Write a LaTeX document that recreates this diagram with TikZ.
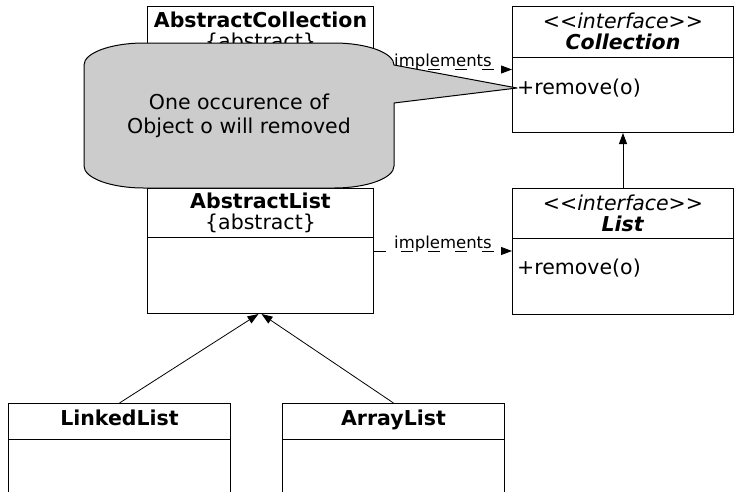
\documentclass[tikz,border=0pt]{standalone}
\usepackage{fontspec}
\setmainfont{DejaVu Sans}
\usetikzlibrary{arrows.meta}
\definecolor{notegray}{HTML}{CCCCCC}

\begin{document}
\begin{tikzpicture}[x=1pt,y=-1pt,
    classbox/.style={draw, line width=1pt, anchor=north west, inner sep=0pt},
    title/.style={font=\fontsize{20.5}{21}\selectfont, align=center, inner sep=0pt},
    op/.style={font=\fontsize{20.5}{21}\selectfont, anchor=west, inner sep=0pt},
    inherit/.style={-{Triangle[length=11pt,width=8pt]}, line width=0.8pt},
    realize/.style={inherit, dash pattern=on 12pt off 15pt},
    lbl/.style={font=\fontsize{16.5}{18}\selectfont, anchor=base, yshift=3pt, inner sep=0pt},
    corner/.style={x radius=60pt, y radius=22pt}]
    \useasboundingbox (0,0) rectangle (734,491);

    % classes
    \node[classbox, minimum width=226pt, minimum height=126pt] (abscoll) at (147,6) {};
    \node[classbox, minimum width=221pt, minimum height=126pt] (coll) at (512,6) {};
    \node[classbox, minimum width=226pt, minimum height=125pt] (abslist) at (147,188) {};
    \node[classbox, minimum width=221pt, minimum height=126pt] (list) at (512,188) {};
    \node[classbox, minimum width=222pt, minimum height=100pt] (linked) at (8,403) {};
    \node[classbox, minimum width=222pt, minimum height=100pt] (array) at (282,403) {};
    \foreach \n/\d in {abscoll/51,coll/51,abslist/49,list/50,linked/36,array/36}
        \draw[line width=1pt] ([yshift=-\d pt]\n.north west) -- ([yshift=-\d pt]\n.north east);

    \node[title] (abscolltitle) at ([yshift=-25.5pt]abscoll.north) {\textbf{AbstractCollection}\\\{abstract\}};
    \node[title] (colltitle) at ([yshift=-25.5pt]coll.north) {\textit{<\kern0pt<interface>\kern0pt>}\\\textbf{\textit{Collection}}};
    \node[title] (abslisttitle) at ([yshift=-24.5pt]abslist.north) {\textbf{AbstractList}\\\{abstract\}};
    \node[title] (listtitle) at ([yshift=-25pt]list.north) {\textit{<\kern0pt<interface>\kern0pt>}\\\textbf{\textit{List}}};
    \node[title, anchor=base] (linkedtitle) at ([yshift=-22.5pt]linked.north) {\textbf{LinkedList}};
    \node[title, anchor=base] (arraytitle) at ([yshift=-22.5pt]array.north) {\textbf{ArrayList}};
    \node[op] (collop) at (517,88) {+remove(o)};
    \node[op] (listop) at (517,268) {+remove(o)};

    % relations
    \draw[realize] (abscoll.east) -- node[lbl] {implements} (coll.west);
    \draw[realize] (abslist.east) -- node[lbl] {implements} (abslist.east -| list.west);
    \draw[inherit] (list.north) -- (coll.south);
    \draw[inherit] (linked.north) -- ([xshift=-2pt]abslist.south);
    \draw[inherit] (array.north) -- ([xshift=1pt]abslist.south);

    % note
    \draw[fill=notegray, line width=1pt, line join=round]
        (394,103) -- (394,166) arc[corner, start angle=0, end angle=-90]
        -- (144,188) arc[corner, start angle=270, end angle=180]
        -- (84,65) arc[corner, start angle=180, end angle=90]
        -- (334,43) arc[corner, start angle=90, end angle=0]
        -- (collop.west) -- cycle;
    \node[font=\fontsize{20.5}{24}\selectfont, align=center] (remark) at (239,115.5) {One occurence of\\Object o will removed};
\end{tikzpicture}
\end{document}
